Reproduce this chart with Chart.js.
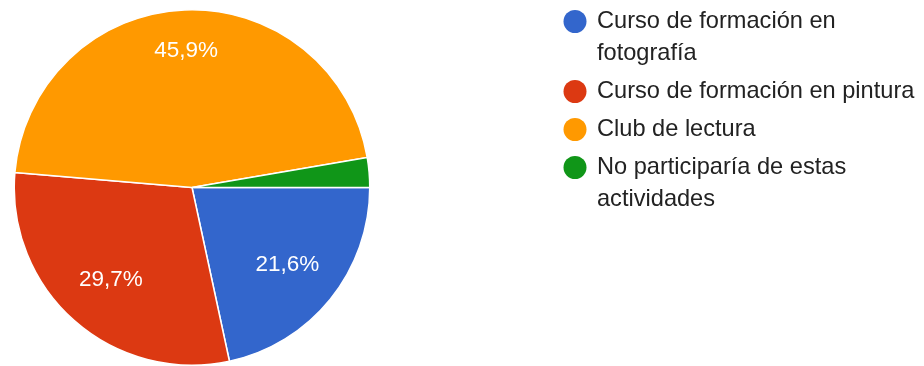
<!DOCTYPE html>
<html>
<head>
<meta charset="utf-8">
<script src="https://cdn.jsdelivr.net/npm/chart.js@4"></script>
<style>
  html, body { margin: 0; padding: 0; background: #fff; }
  #wrap { width: 924px; height: 366px; }
</style>
</head>
<body>
<div id="wrap"><canvas id="pieChart" width="924" height="366"></canvas></div>
<script>
const categories = [
  "Curso de formación en fotografía",
  "Curso de formación en pintura",
  "Club de lectura",
  "No participaría de estas actividades",
];
const percentages = [21.6, 29.7, 45.9, 2.7];
const colors = ["#3366cc", "#dc3912", "#ff9900", "#109618"];

const FONT = '"Liberation Sans", Arial, sans-serif';

// percentage labels inside the slices
const sliceLabels = {
  id: "sliceLabels",
  afterDatasetsDraw(chart) {
    const ctx = chart.ctx;
    const meta = chart.getDatasetMeta(0);
    ctx.save();
    ctx.font = "22.5px " + FONT;
    ctx.fillStyle = "#ffffff";
    ctx.textAlign = "center";
    ctx.textBaseline = "middle";
    meta.data.forEach((arc, i) => {
      const v = percentages[i];
      if (v < 5) return;
      const { x, y, startAngle, endAngle, outerRadius } = arc.getProps(
        ["x", "y", "startAngle", "endAngle", "outerRadius"], true);
      const mid = (startAngle + endAngle) / 2;
      const r = outerRadius * (v > 40 ? 0.77 : 0.69);
      ctx.fillText(v.toFixed(1).replace(".", ",") + "%",
        x + Math.cos(mid) * r, y + Math.sin(mid) * r);
    });
    ctx.restore();
  },
};

// legend on the right with wrapped text
const sideLegend = {
  id: "sideLegend",
  afterDraw(chart) {
    const ctx = chart.ctx;
    const left = 597, maxW = 324;
    let y = 21.5;
    ctx.save();
    ctx.font = "23.6px " + FONT;
    ctx.textBaseline = "middle";
    categories.forEach((label, i) => {
      // wrap words
      const lines = [];
      let cur = "";
      label.split(" ").forEach((w) => {
        const t = cur ? cur + " " + w : w;
        if (ctx.measureText(t).width > maxW && cur) {
          lines.push(cur);
          cur = w;
        } else cur = t;
      });
      lines.push(cur);

      ctx.fillStyle = colors[i];
      ctx.beginPath();
      ctx.arc(575, y, 11.5, 0, Math.PI * 2);
      ctx.fill();

      ctx.fillStyle = "#222222";
      lines.forEach((ln, j) => {
        ctx.fillText(ln, left, y + j * 32);
      });
      y += (lines.length - 1) * 32 + 38;
    });
    ctx.restore();
  },
};

new Chart(document.getElementById("pieChart"), {
  type: "pie",
  data: {
    labels: categories,
    datasets: [
      {
        data: percentages,
        backgroundColor: colors,
        borderColor: "#ffffff",
        borderWidth: 1.5,
      },
    ],
  },
  options: {
    responsive: false,
    animation: false,
    rotation: 90,
    layout: { padding: { left: 13, right: 553, top: 9, bottom: 0 } },
    plugins: {
      legend: { display: false },
      tooltip: { enabled: false },
    },
  },
  plugins: [sliceLabels, sideLegend],
});
</script>
</body>
</html>
